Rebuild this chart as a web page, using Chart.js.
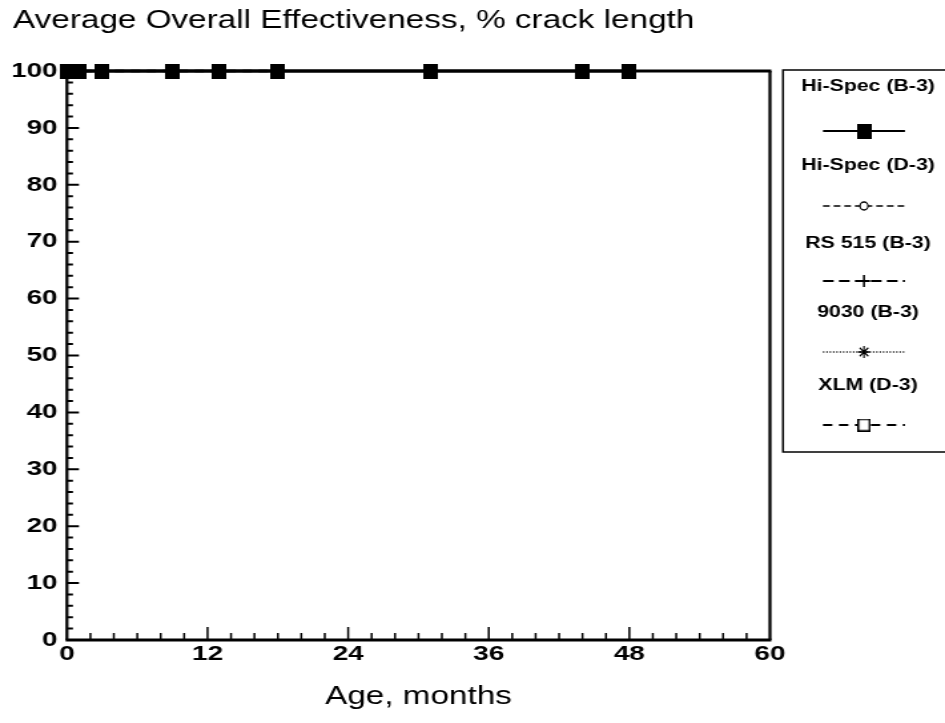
<!DOCTYPE html>
<html>
<head>
<meta charset="utf-8">
<script src="https://cdn.jsdelivr.net/npm/chart.js@4.4.1/dist/chart.umd.min.js"></script>
<style>
  html, body { margin: 0; padding: 0; background: #fff; }
  #effChart { display: block; width: 945px; height: 723px; }
</style>
</head>
<body>
<canvas id="effChart" width="710" height="723" style="width:945px;height:723px"></canvas>
<script>
// the scan is wider than tall, so the canvas is drawn narrow and stretched by css
const SX = 945 / 710;

const seriesNames = ["Hi-Spec (B-3)", "Hi-Spec (D-3)", "RS 515 (B-3)", "9030 (B-3)", "XLM (D-3)"];

const hiSpecB3Age = [0, 0.5, 1, 3, 9, 13, 18, 31, 44, 48];
const hiSpecB3Pct = [100, 100, 100, 100, 100, 100, 100, 100, 100, 100];

const hiSpecD3Age = [0, 3, 9, 18, 31];
const hiSpecD3Pct = [100, 100, 100, 100, 100];

const rs515Age = [0, 1, 3, 9, 13, 18];
const rs515Pct = [100, 100, 100, 100, 100, 100];

const s9030Age = [0, 3, 9, 13, 18, 31, 44];
const s9030Pct = [100, 100, 100, 100, 100, 100, 100];

const xlmAge = [0, 3, 9, 18];
const xlmPct = [100, 100, 100, 100];

const ageTicks = [0, 12, 24, 36, 48, 60];
const pctTicks = [0, 10, 20, 30, 40, 50, 60, 70, 80, 90, 100];

const FONT = "'Liberation Sans', Arial, Helvetica, sans-serif";

function pts(xs, ys) {
  return xs.map((x, i) => ({ x: x, y: ys[i] }));
}

// square marker pre-squeezed so it looks square after the stretch
function squareMarker(size, fill, stroke) {
  const c = document.createElement("canvas");
  c.width = Math.round(size / SX);
  c.height = size;
  const g = c.getContext("2d");
  g.fillStyle = fill;
  g.fillRect(0, 0, c.width, c.height);
  if (stroke) {
    g.strokeStyle = stroke;
    g.lineWidth = 1.5;
    g.strokeRect(0.75, 0.75, c.width - 1.5, c.height - 1.5);
  }
  return c;
}

const datasets = [
  {
    label: seriesNames[0],
    data: pts(hiSpecB3Age, hiSpecB3Pct),
    borderColor: "#000",
    borderWidth: 3,
    pointStyle: squareMarker(15, "#000"),
    pointRadius: 7,
  },
  {
    label: seriesNames[1],
    data: pts(hiSpecD3Age, hiSpecD3Pct),
    borderColor: "#000",
    borderWidth: 1.5,
    borderDash: [5, 3],
    pointStyle: "circle",
    pointRadius: 3,
    pointBackgroundColor: "#fff",
  },
  {
    label: seriesNames[2],
    data: pts(rs515Age, rs515Pct),
    borderColor: "#000",
    borderWidth: 2,
    borderDash: [8, 4],
    pointStyle: "cross",
    pointRadius: 5,
  },
  {
    label: seriesNames[3],
    data: pts(s9030Age, s9030Pct),
    borderColor: "#000",
    borderWidth: 1.5,
    borderDash: [1, 1.5],
    pointStyle: "star",
    pointRadius: 5,
  },
  {
    label: seriesNames[4],
    data: pts(xlmAge, xlmPct),
    borderColor: "#000",
    borderWidth: 2.5,
    borderDash: [7, 5],
    pointStyle: squareMarker(13, "#fff", "#000"),
    pointRadius: 6,
  },
];
datasets.forEach((d) => {
  d.clip = false;
  d.tension = 0;
  d.fill = false;
  d.pointBorderColor = "#000";
  if (!d.pointBackgroundColor) d.pointBackgroundColor = "#000";
});

// box around plot + inward ticks
const framePlugin = {
  id: "frame",
  beforeDatasetsDraw(chart) {
    const { ctx, chartArea: a, scales } = chart;
    const xs = scales.x, ys = scales.y;
    ctx.save();
    ctx.strokeStyle = "#000";
    ctx.lineCap = "butt";

    // horizontal edges
    ctx.lineWidth = 3;
    ctx.beginPath();
    ctx.moveTo(a.left - 1, a.top); ctx.lineTo(a.right + 1, a.top);
    ctx.moveTo(a.left - 1, a.bottom); ctx.lineTo(a.right + 1, a.bottom);
    ctx.stroke();
    // vertical edges
    ctx.lineWidth = 3 / SX;
    ctx.beginPath();
    ctx.moveTo(a.left, a.top); ctx.lineTo(a.left, a.bottom);
    ctx.moveTo(a.right, a.top); ctx.lineTo(a.right, a.bottom);
    ctx.stroke();

    // y ticks, every 2, long every 10
    ctx.lineWidth = 2;
    ctx.beginPath();
    for (let v = 2; v < 100; v += 2) {
      const y = ys.getPixelForValue(v);
      const len = v % 10 === 0 ? 12 : 6;
      ctx.moveTo(a.left, y); ctx.lineTo(a.left + len / SX, y);
    }
    ctx.stroke();

    // x ticks, every 2, long every 12
    ctx.lineWidth = 2 / SX;
    ctx.beginPath();
    for (let v = 2; v < 60; v += 2) {
      const x = xs.getPixelForValue(v);
      const len = v % 12 === 0 ? 13 : 7;
      ctx.moveTo(x, a.bottom); ctx.lineTo(x, a.bottom - len);
    }
    ctx.stroke();
    ctx.restore();
  },
};

// legend in a box on the right, label above each sample line
const sideLegend = {
  id: "sideLegend",
  afterDraw(chart) {
    const { ctx } = chart;
    const boxL = 783 / SX, boxR = 950 / SX, boxT = 70, boxB = 452;
    const cx = 868 / SX;
    const lineL = 823 / SX, lineR = 905 / SX, mx = 864 / SX;
    const labelY = [87, 166, 244, 313, 386];
    const sampleY = [131, 206, 281, 352, 425];
    ctx.save();
    ctx.strokeStyle = "#000";
    ctx.lineWidth = 1.5;
    ctx.strokeRect(boxL, boxT, boxR - boxL, boxB - boxT);

    chart.data.datasets.forEach((ds, i) => {
      ctx.fillStyle = "#000";
      ctx.font = "bold 16px " + FONT;
      ctx.textAlign = "center";
      ctx.textBaseline = "middle";
      ctx.fillText(ds.label, cx, labelY[i]);

      const y = sampleY[i];
      ctx.setLineDash(ds.borderDash || []);
      ctx.lineWidth = Math.min(ds.borderWidth, 2);
      ctx.beginPath();
      ctx.moveTo(lineL, y); ctx.lineTo(lineR, y);
      ctx.stroke();
      ctx.setLineDash([]);

      if (ds.pointStyle instanceof HTMLCanvasElement) {
        const m = ds.pointStyle;
        ctx.drawImage(m, mx - m.width / 2, y - m.height / 2);
      } else {
        ctx.save();
        ctx.translate(mx, y);
        ctx.scale(1 / SX, 1);
        ctx.fillStyle = ds.pointBackgroundColor;
        ctx.strokeStyle = "#000";
        Chart.helpers.drawPoint(ctx, {
          pointStyle: ds.pointStyle,
          rotation: 0,
          radius: ds.pointRadius + 1,
          borderWidth: 1.5,
        }, 0, 0);
        ctx.restore();
      }
    });
    ctx.restore();
  },
};

const effCtx = document.getElementById("effChart").getContext("2d");

const effChart = new Chart(effCtx, {
  type: "line",
  data: { datasets: datasets },
  options: {
    responsive: false,
    devicePixelRatio: 1,
    animation: false,
    layout: {
      padding: { left: 9.8, right: 131.5, top: 0, bottom: 0 },
    },
    plugins: {
      legend: { display: false },
      tooltip: { enabled: false },
      title: {
        display: true,
        text: "Average Overall Effectiveness, % crack length",
        align: "start",
        color: "#000",
        font: { family: FONT, size: 25, weight: "normal" },
        padding: { top: 6, bottom: 35 },
      },
    },
    scales: {
      x: {
        type: "linear",
        min: 0,
        max: 60,
        afterBuildTicks: (scale) => {
          scale.ticks = ageTicks.map((v) => ({ value: v }));
        },
        afterFit: (scale) => { scale.height = 83; },
        grid: { display: false, drawTicks: false },
        border: { display: false },
        ticks: {
          color: "#000",
          padding: 2,
          maxRotation: 0,
          font: { family: FONT, size: 21, weight: "bold" },
        },
        title: {
          display: true,
          text: "Age, months",
          color: "#000",
          font: { family: FONT, size: 25 },
          padding: { top: 0, bottom: 11 },
        },
      },
      y: {
        min: 0,
        max: 100,
        afterBuildTicks: (scale) => {
          scale.ticks = pctTicks.map((v) => ({ value: v }));
        },
        afterFit: (scale) => { scale.width = 40.5; },
        grid: { display: false, drawTicks: false },
        border: { display: false },
        ticks: {
          color: "#000",
          padding: 7,
          font: { family: FONT, size: 21, weight: "bold" },
        },
      },
    },
  },
  plugins: [framePlugin, sideLegend],
});
</script>
</body>
</html>
